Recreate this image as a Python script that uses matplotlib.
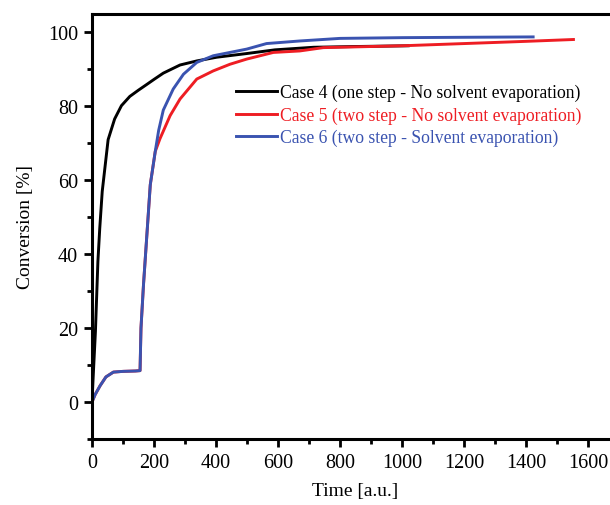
import matplotlib
matplotlib.use("Agg")
import matplotlib.pyplot as plt
from matplotlib.ticker import MultipleLocator

# conversion curves for the three cases
t_case4 = [0, 3, 11, 19, 25, 33, 52, 73, 95, 122, 150, 176, 200, 230, 284, 338, 402, 499, 590, 715, 850, 1020]
c_case4 = [0, 5.5, 19, 38, 47, 57, 71, 76.6, 80.2, 82.7, 84.4, 85.9, 87.3, 89.0, 91.2, 92.3, 93.3, 94.3, 95.3, 96.0, 96.2, 96.4]

t_case5 = [0, 10, 26, 45, 69, 100, 140, 155, 158, 166, 177, 188, 204, 219, 252, 284, 338, 391, 445, 499, 585, 670, 746, 1000, 1200, 1400, 1553]
c_case5 = [0, 2.0, 4.4, 6.8, 8.1, 8.3, 8.4, 8.5, 20, 31.6, 45.2, 58.8, 67.8, 71.2, 77.5, 82.0, 87.4, 89.6, 91.4, 92.8, 94.6, 95.0, 95.9, 96.4, 97.0, 97.6, 98.1]

t_case6 = [0, 10, 26, 45, 69, 100, 140, 155, 158, 166, 177, 188, 204, 215, 230, 262, 295, 338, 391, 445, 499, 563, 670, 800, 1000, 1200, 1423]
c_case6 = [0, 2.0, 4.4, 6.8, 8.1, 8.3, 8.4, 8.5, 20, 31.6, 45.2, 58.8, 67.8, 73.5, 79.0, 84.7, 88.7, 91.9, 93.7, 94.6, 95.5, 97.0, 97.7, 98.4, 98.6, 98.7, 98.8]

labels = ["Case 4 (one step - No solvent evaporation)",
          "Case 5 (two step - No solvent evaporation)",
          "Case 6 (two step - Solvent evaporation)"]
colors = ["#000000", "#ee1d23", "#3a53b0"]

plt.rcParams['font.family'] = ['Liberation Serif', 'DejaVu Serif']
plt.rcParams['font.size'] = 14

fig = plt.figure(figsize=(6.1, 5.06), dpi=100)
ax = fig.add_axes([92 / 610, 66 / 506, 527 / 610, 425 / 506])

ax.plot(t_case4, c_case4, color=colors[0], lw=2.1, label=labels[0])
ax.plot(t_case5, c_case5, color=colors[1], lw=2.1, label=labels[1])
ax.plot(t_case6, c_case6, color=colors[2], lw=2.1, label=labels[2])

ax.set_xlim(0, 1700)
ax.set_ylim(-10, 105)
ax.xaxis.set_major_locator(MultipleLocator(200))
ax.xaxis.set_minor_locator(MultipleLocator(100))
ax.yaxis.set_major_locator(MultipleLocator(20))
ax.yaxis.set_minor_locator(MultipleLocator(10))
ax.tick_params(which='major', direction='out', length=6, width=2, pad=4, labelsize=14.5)
ax.tick_params(which='minor', direction='out', length=3.5, width=2)
for s in ax.spines.values():
    s.set_linewidth(2.2)

ax.set_xlabel("Time [a.u.]", labelpad=7)
ax.set_ylabel("Conversion [%]", labelpad=10)

leg = ax.legend(loc='upper left', bbox_to_anchor=(0.26, 0.852), frameon=False,
                handlelength=2.3, handletextpad=0.2, labelspacing=0.3,
                borderaxespad=0, fontsize=12.7)
for txt, c in zip(leg.get_texts(), colors):
    txt.set_color(c)

fig.savefig("out.png", dpi=100)
